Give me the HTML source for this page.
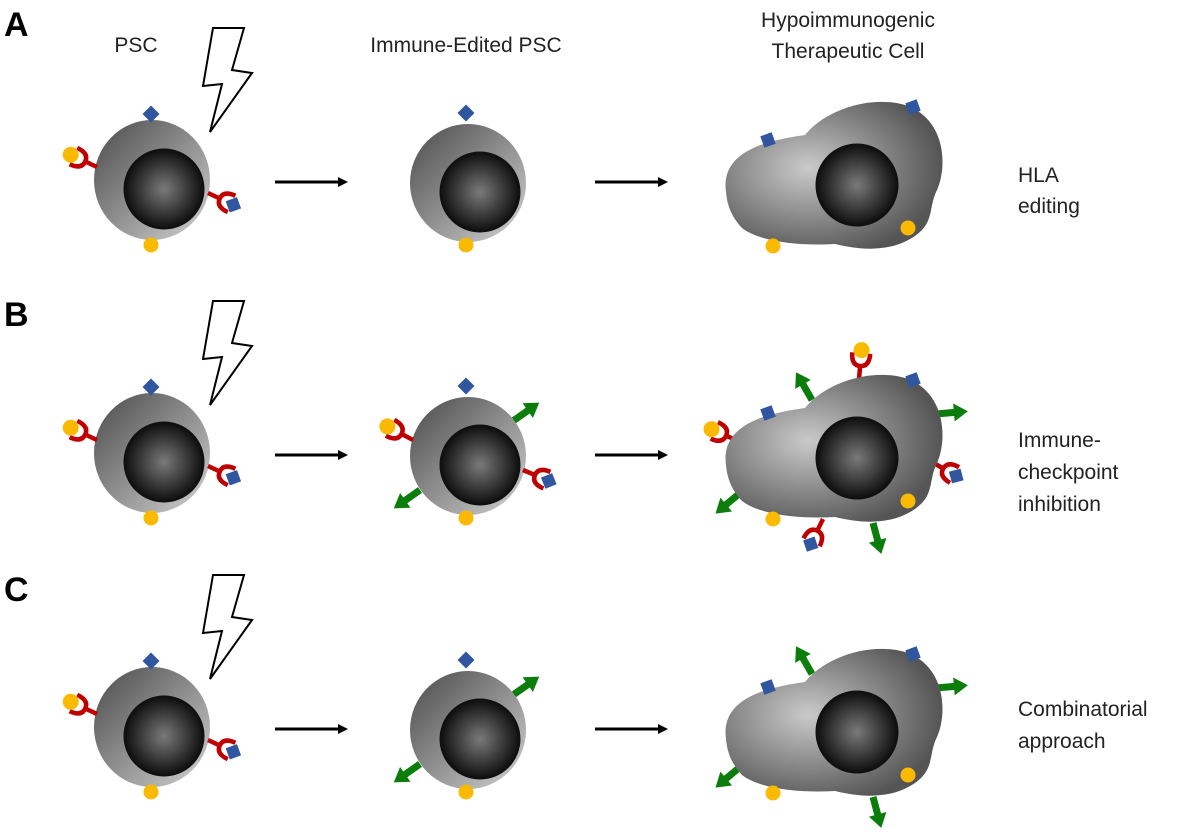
<!DOCTYPE html>
<html><head><meta charset="utf-8"><style>
html,body{margin:0;padding:0;background:#fff;}
svg{display:block;}
text{font-family:"Liberation Sans",sans-serif;fill:#222;}
</style></head><body>
<svg width="1200" height="832" viewBox="0 0 1200 832" xmlns="http://www.w3.org/2000/svg">
<defs>
<linearGradient id="cg" x1="0" y1="0" x2="1" y2="1">
<stop offset="0" stop-color="#4a4a4a"/><stop offset="1" stop-color="#d2d2d2"/></linearGradient>
<radialGradient id="ng" cx="0.5" cy="0.5" r="0.5">
<stop offset="0" stop-color="#7a7a7a"/><stop offset="1" stop-color="#0d0d0d"/></radialGradient>
<radialGradient id="bg" cx="0.38" cy="0.45" r="0.62">
<stop offset="0" stop-color="#cacaca"/><stop offset="1" stop-color="#555"/></radialGradient>
<g id="ry"><path d="M0,0 L0,-13 M-9,-26 Q-9,-13 0,-13 Q9,-13 9,-26" stroke="#c00000" stroke-width="4.5" fill="none"/><circle cx="0" cy="-29" r="8" fill="#fbb900"/></g>
<g id="rb"><path d="M0,0 L0,-13 M-9,-26 Q-9,-13 0,-13 Q9,-13 9,-26" stroke="#c00000" stroke-width="4.5" fill="none"/><rect x="-6" y="-34" width="12" height="12" fill="#2f569f" transform="rotate(45 0 -28)"/></g>
<g id="garr"><line x1="0" y1="0" x2="20" y2="0" stroke="#0a7d0a" stroke-width="7"/><polygon points="18,-9 32,0 18,9" fill="#0a7d0a"/></g>
<g id="psc">
<ellipse cx="152" cy="180" rx="58" ry="60" fill="url(#cg)"/>
<circle cx="164" cy="189" r="40" fill="url(#ng)" stroke="#111" stroke-width="1"/>
<rect x="145" y="108" width="12" height="12" fill="#2f569f" transform="rotate(45 151 114)"/>
<circle cx="151" cy="245" r="7.5" fill="#fbb900"/>
<use href="#ry" transform="translate(97,167) rotate(-65)"/>
<use href="#rb" transform="translate(208,193) rotate(115)"/>
<polygon points="213,28 244,28 232,70 252,73 210,132 222,84 203,86" fill="#fff" stroke="#000" stroke-width="2" stroke-linejoin="miter"/>
</g>
<g id="mid">
<ellipse cx="468" cy="183" rx="58" ry="59" fill="url(#cg)"/>
<circle cx="480" cy="192" r="40" fill="url(#ng)" stroke="#111" stroke-width="1"/>
<rect x="460" y="107" width="12" height="12" fill="#2f569f" transform="rotate(45 466 113)"/>
<circle cx="466" cy="245" r="7.5" fill="#fbb900"/>
</g>
<g id="blob">
<path d="M726,192 C720,150 770,140 805,135 C825,110 870,95 905,105 C945,118 948,165 937,190 C928,208 935,222 915,236 C890,253 860,250 835,244 C800,246 760,242 742,228 C730,215 727,203 726,192 Z" fill="url(#bg)"/>
<circle cx="857" cy="185" r="41" fill="url(#ng)" stroke="#111" stroke-width="1"/>
<rect x="762" y="134" width="12" height="12" fill="#2f569f" transform="rotate(-20 768 140)"/>
<rect x="907" y="101" width="12" height="12" fill="#2f569f" transform="rotate(-20 913 107)"/>
<circle cx="773" cy="246" r="7.5" fill="#fbb900"/>
<circle cx="908" cy="228" r="7.5" fill="#fbb900"/>
</g>
<g id="arrows">
<line x1="275" y1="182" x2="340" y2="182" stroke="#000" stroke-width="3"/><polygon points="338,177 348,182 338,187" fill="#000"/>
<line x1="595" y1="182" x2="660" y2="182" stroke="#000" stroke-width="3"/><polygon points="658,177 668,182 658,187" fill="#000"/>
</g>
</defs>

<text x="4" y="36" font-size="34" font-weight="bold" style="fill:#000">A</text>
<text x="4" y="326" font-size="34" font-weight="bold" style="fill:#000">B</text>
<text x="4" y="601" font-size="34" font-weight="bold" style="fill:#000">C</text>
<text x="136" y="52" font-size="21" text-anchor="middle">PSC</text>
<text x="466" y="52" font-size="21" text-anchor="middle">Immune-Edited PSC</text>
<text x="848" y="27" font-size="21" text-anchor="middle">Hypoimmunogenic</text>
<text x="848" y="58" font-size="21" text-anchor="middle">Therapeutic Cell</text>
<text x="1018" y="182" font-size="21">HLA</text>
<text x="1018" y="213" font-size="21">editing</text>
<text x="1018" y="447" font-size="21">Immune-</text>
<text x="1018" y="479" font-size="21">checkpoint</text>
<text x="1018" y="511" font-size="21">inhibition</text>
<text x="1018" y="716" font-size="21">Combinatorial</text>
<text x="1018" y="748" font-size="21">approach</text>

<use href="#psc"/><use href="#mid"/><use href="#blob"/><use href="#arrows"/>

<g transform="translate(0,273)">
<use href="#psc"/>
<use href="#garr" transform="translate(513,148) rotate(-35)"/>
<use href="#garr" transform="translate(420,217) rotate(145)"/>
<use href="#mid"/>
<use href="#ry" transform="translate(413,167) rotate(-62)"/>
<use href="#rb" transform="translate(523,197) rotate(113)"/>
<use href="#garr" transform="translate(812,127) rotate(-120)"/>
<use href="#garr" transform="translate(936,141) rotate(-5)"/>
<use href="#garr" transform="translate(740,220) rotate(140)"/>
<use href="#garr" transform="translate(873,250) rotate(75)"/>
<use href="#ry" transform="translate(859,106) rotate(5)"/>
<use href="#ry" transform="translate(738,168) rotate(-66)"/>
<use href="#rb" transform="translate(932,189) rotate(120)"/>
<use href="#rb" transform="translate(823,246) rotate(206)"/>
<use href="#blob"/>
<use href="#arrows"/>
</g>

<g transform="translate(0,547)">
<use href="#psc"/>
<use href="#garr" transform="translate(513,148) rotate(-35)"/>
<use href="#garr" transform="translate(420,217) rotate(145)"/>
<use href="#mid"/>
<use href="#garr" transform="translate(812,127) rotate(-120)"/>
<use href="#garr" transform="translate(936,141) rotate(-5)"/>
<use href="#garr" transform="translate(740,220) rotate(140)"/>
<use href="#garr" transform="translate(873,250) rotate(75)"/>
<use href="#blob"/>
<use href="#arrows"/>
</g>
</svg>
</body></html>
